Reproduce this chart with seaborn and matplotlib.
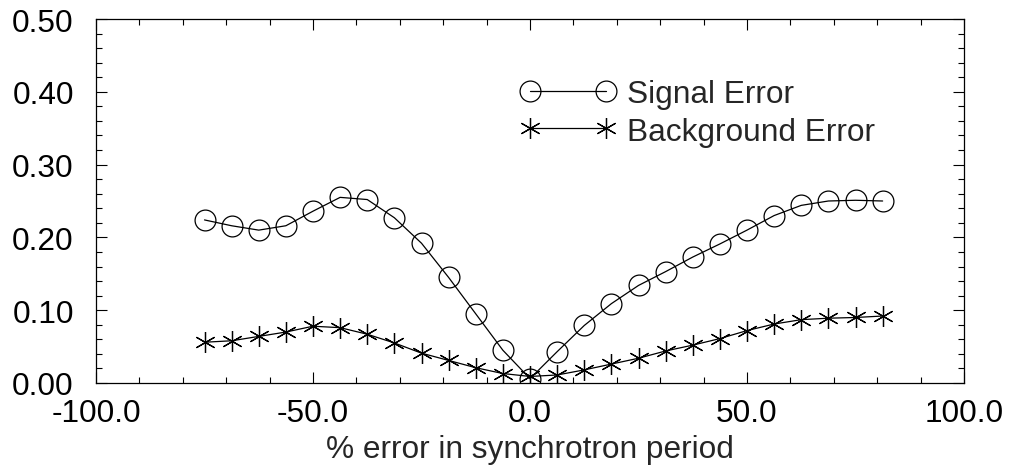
import numpy as np
import pandas as pd
import matplotlib
matplotlib.use("Agg")
import matplotlib.pyplot as plt
from matplotlib.ticker import MultipleLocator, FormatStrFormatter
import seaborn as sns

# % error in synchrotron period
x_vals = [-75.0, -68.75, -62.5, -56.25, -50.0, -43.75, -37.5, -31.25, -25.0,
          -18.75, -12.5, -6.25, 0.0, 6.25, 12.5, 18.75, 25.0, 31.25, 37.5,
          43.75, 50.0, 56.25, 62.5, 68.75, 75.0, 81.25]

signal_err = [0.224, 0.216, 0.210, 0.216, 0.236, 0.255, 0.252, 0.227, 0.192,
              0.145, 0.095, 0.045, 0.006, 0.043, 0.079, 0.109, 0.134, 0.153,
              0.173, 0.191, 0.210, 0.230, 0.244, 0.250, 0.251, 0.250]

background_err = [0.056, 0.058, 0.064, 0.070, 0.078, 0.076, 0.067, 0.055, 0.041,
                  0.031, 0.021, 0.013, 0.009, 0.011, 0.018, 0.026, 0.034, 0.044,
                  0.052, 0.061, 0.072, 0.081, 0.087, 0.089, 0.090, 0.092]

df = pd.DataFrame({"x": x_vals, "signal": signal_err, "background": background_err})

sns.set_style("ticks")
plt.rcParams['font.family'] = ['Liberation Sans', 'DejaVu Sans']
plt.rcParams['axes.unicode_minus'] = False

fs = 22.8

fig = plt.figure(figsize=(10.11, 4.77), dpi=100)
ax = fig.add_axes([96 / 1011, 93 / 477, 868 / 1011, 364 / 477])

sns.lineplot(data=df, x="x", y="signal", ax=ax, color="black", lw=0.9,
             marker="o", markersize=15, markerfacecolor="none",
             markeredgecolor="black", markeredgewidth=0.9, label="Signal Error")
sns.lineplot(data=df, x="x", y="background", ax=ax, color="black", lw=0.9,
             marker=(6, 2, 0), markersize=15, markeredgecolor="black",
             markeredgewidth=0.9, label="Background Error")

ax.set_xlim(-100, 100)
ax.set_ylim(0, 0.5)
ax.xaxis.set_major_locator(MultipleLocator(50))
ax.xaxis.set_minor_locator(MultipleLocator(10))
ax.yaxis.set_major_locator(MultipleLocator(0.1))
ax.yaxis.set_minor_locator(MultipleLocator(0.02))
ax.xaxis.set_major_formatter(FormatStrFormatter('%.1f'))
ax.yaxis.set_major_formatter(FormatStrFormatter('%.2f'))

ax.tick_params(which='both', direction='in', top=True, right=True,
               width=0.8, colors='black', labelsize=fs)
ax.tick_params(axis='x', which='both', pad=11)
ax.tick_params(axis='y', which='both', pad=16)
ax.tick_params(which='major', length=8)
ax.tick_params(which='minor', length=4.5)
for s in ax.spines.values():
    s.set_linewidth(0.9)
    s.set_color('black')

ax.set_xlabel("% error in synchrotron period", fontsize=fs, labelpad=4)
ax.set_ylabel("")

ax.legend(loc='center left', bbox_to_anchor=(0.4896, 0.743), frameon=False,
          fontsize=fs, numpoints=2, handlelength=3.0, handletextpad=0.35,
          labelspacing=0.25, borderpad=0, borderaxespad=0)

fig.savefig("out.png", dpi=100)
